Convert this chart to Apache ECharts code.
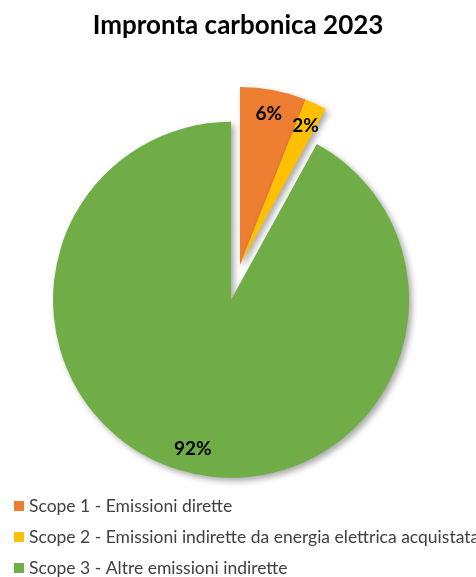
<!DOCTYPE html>
<html>
<head>
<meta charset="utf-8">
<script src="https://cdn.jsdelivr.net/npm/echarts@6/dist/echarts.min.js"></script>
<style>html,body{margin:0;padding:0;background:#fff}#c{width:476px;height:577px}</style>
</head>
<body>
<div id="c"></div>
<script>
const categories = ['Scope 1 - Emissioni dirette', 'Scope 2 - Emissioni indirette da energia elettrica acquistata', 'Scope 3 - Altre emissioni indirette'];
const values = [6, 2, 92];
const colors = ['#ED7D31', '#FFC000', '#70AD47'];
const exploded = [false, false, true];

const chart = echarts.init(document.getElementById('c'));
const baseData = categories.map((n, i) => ({ name: n, value: values[i], selected: exploded[i], itemStyle: { color: colors[i] } }));
const labelData = categories.map((n, i) => ({ name: n, value: values[i], selected: exploded[i] }));
chart.setOption({
  animation: false,
  title: { text: 'Impronta carbonica 2023', left: 'center', top: 8, textStyle: { fontFamily: 'Lato', fontWeight: 'bold', fontSize: 26, color: '#000' } },
  legend: {
    orient: 'vertical', left: 9, top: 492, height: 100, itemWidth: 10, itemHeight: 10, itemGap: 13, icon: 'rect',
    data: categories,
    textStyle: { fontFamily: 'Lato', fontSize: 17.5, color: '#404040' }
  },
  series: [
    {
      type: 'pie', center: [240, 265], radius: 178, startAngle: 90, clockwise: true,
      selectedMode: 'multiple', selectedOffset: 36, label: { show: false }, labelLine: { show: false },
      itemStyle: { shadowBlur: 6, shadowColor: 'rgba(0,0,0,0.35)', shadowOffsetX: 3, shadowOffsetY: 3 },
      emphasis: { disabled: true },
      data: baseData
    },
    {
      type: 'pie', center: [240, 265], radius: [124, 178], startAngle: 90, clockwise: true, silent: true,
      selectedMode: 'multiple', selectedOffset: 36,
      itemStyle: { color: 'rgba(0,0,0,0)' },
      label: { show: true, position: 'inside', formatter: p => p.value + '%', fontFamily: 'Lato', fontWeight: 'bold', fontSize: 19, color: '#000' },
      labelLine: { show: false },
      emphasis: { disabled: true },
      data: labelData
    }
  ]
});
</script>
</body>
</html>
